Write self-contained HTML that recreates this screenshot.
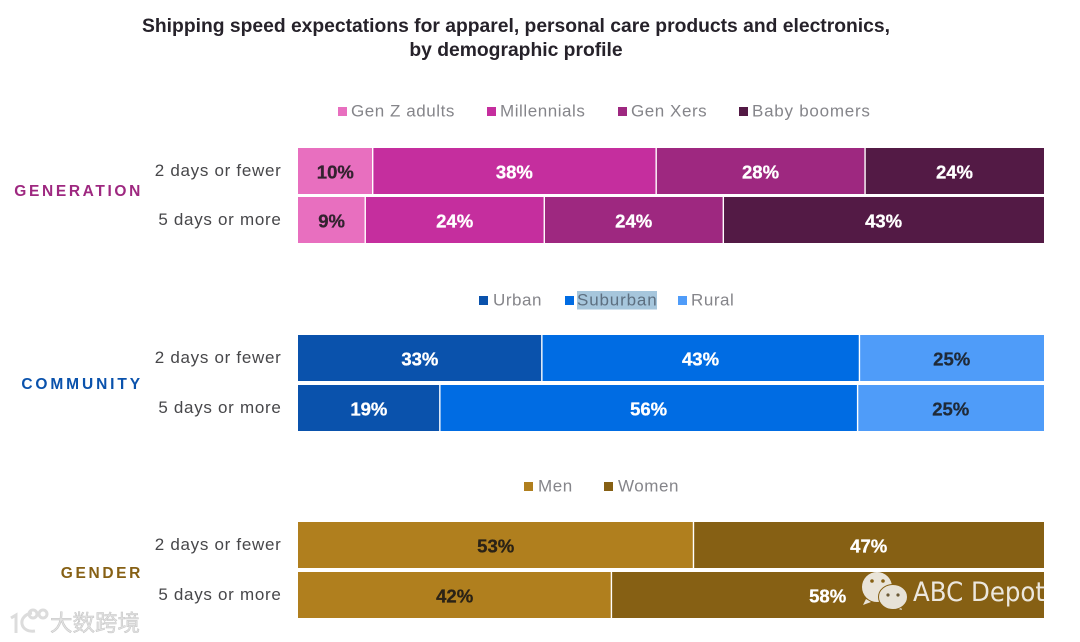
<!DOCTYPE html>
<html lang="en">
<head>
<meta charset="utf-8">
<title>Shipping speed expectations</title>
<style>
html,body{margin:0;padding:0;background:#fff;width:1080px;height:642px;overflow:hidden}
svg{display:block;font-family:"Liberation Sans","Noto Sans CJK SC",sans-serif}
.title{font-size:19.3px;font-weight:700;fill:#26222a;text-anchor:middle}
.leg{font-size:17px;fill:#85858a;letter-spacing:.55px}
.row{font-size:17px;fill:#47474a;text-anchor:end;letter-spacing:.7px}
.group{font-size:15.5px;font-weight:700;text-anchor:end;letter-spacing:2.65px}
.val{font-size:18.500px;font-weight:700;text-anchor:middle;stroke-width:.3px}
</style>
</head>
<body>
<svg id="chart" width="1080" height="642" viewBox="0 0 1080 642" xmlns="http://www.w3.org/2000/svg">
  <text class="title" x="516" y="32">Shipping speed expectations for apparel, personal care products and electronics,</text>
  <text class="title" x="516" y="56">by demographic profile</text>

  <g>
    <rect x="338" y="107" width="9" height="9" fill="#e86fbf"/>
    <text class="leg" x="351" y="116.500">Gen Z adults</text>
    <rect x="487" y="107" width="9" height="9" fill="#c52e9e"/>
    <text class="leg" x="500" y="116.500">Millennials</text>
    <rect x="618" y="107" width="9" height="9" fill="#9e2880"/>
    <text class="leg" x="631" y="116.500">Gen Xers</text>
    <rect x="739" y="107" width="9" height="9" fill="#531a45"/>
    <text class="leg" x="752" y="116.500" style="letter-spacing:.75px">Baby boomers</text>
  </g>

  <g>
    <rect x="479" y="296" width="9" height="9" fill="#0a52ac"/>
    <text class="leg" x="493" y="305.500">Urban</text>
    <rect x="565" y="296" width="9" height="9" fill="#006ce3"/>
    <rect x="577" y="291" width="80" height="18.500" fill="#a6c6dc"/>
    <text class="leg" x="577" y="305.500" style="fill:#5d6f80;letter-spacing:.85px">Suburban</text>
    <rect x="678" y="296" width="9" height="9" fill="#4f9cf9"/>
    <text class="leg" x="691" y="305.500">Rural</text>
  </g>

  <g>
    <rect x="524" y="482" width="9" height="9" fill="#b07f1e"/>
    <text class="leg" x="538" y="491.500">Men</text>
    <rect x="604" y="482" width="9" height="9" fill="#866014"/>
    <text class="leg" x="618" y="491.500">Women</text>
  </g>

  <text class="group" x="143" y="196" fill="#9e2880">GENERATION</text>
  <text class="group" x="143" y="389" fill="#0a52ac" style="letter-spacing:2.9px">COMMUNITY</text>
  <text class="group" x="143" y="578" fill="#866014">GENDER</text>

  <g id="bars"></g>

  <g opacity="0.93">
    <g>
      <path d="M866 599l-3 6 8-3z" fill="#f1eee8"/>
      <ellipse cx="877" cy="587" rx="15" ry="15" fill="#f1eee8"/>
      <path d="M900 605l2 5-7-2z" fill="#efece6"/>
      <ellipse cx="893" cy="597" rx="14.500" ry="12.500" fill="#efece6" stroke="#866014" stroke-width="1"/>
      <circle cx="872" cy="581" r="1.800" fill="#866014"/>
      <circle cx="883" cy="581" r="1.800" fill="#866014"/>
      <circle cx="888" cy="595" r="1.600" fill="#6b5a3a"/>
      <circle cx="898" cy="595" r="1.600" fill="#6b5a3a"/>
    </g>
    <text x="913" y="601" font-size="27" textLength="132" lengthAdjust="spacingAndGlyphs" fill="#f4f2ee" style="font-family:'DejaVu Sans',sans-serif">ABC Depot</text>
  </g>

  <g>
    <g fill="none" stroke="#dcdcdc" stroke-width="3">
      <path d="M11 618l5-3v18"/>
      <path d="M32 613c-7 1-11 6-10 11 1 5 6 8 13 7"/>
      <circle cx="33" cy="614" r="4"/>
      <circle cx="43" cy="614" r="4"/>
    </g>
    <text x="50" y="631" font-size="22.500" fill="#e2e2e2" stroke="#c4c4c4" stroke-width=".5">大数跨境</text>
  </g>
</svg>

<script>
// Values (percent)
const rowLabels = ["2 days or fewer", "5 days or more"];
const generationSeries = ["Gen Z adults", "Millennials", "Gen Xers", "Baby boomers"];
const generationFewer = [10, 38, 28, 24];
const generationMore = [9, 24, 24, 43];
const communitySeries = ["Urban", "Suburban", "Rural"];
const communityFewer = [33, 43, 25];
const communityMore = [19, 56, 25];
const genderSeries = ["Men", "Women"];
const genderFewer = [53, 47];
const genderMore = [42, 58];

const PLOT_LEFT = 298, PLOT_WIDTH = 746, BAR_HEIGHT = 46, GAP = 1.4, NUDGE = 0.8;
const groups = [
  {key:"generation", top:[148,197], series:generationSeries, rows:[generationFewer,generationMore],
   colors:["#e86fbf","#c52e9e","#9e2880","#531a45"], text:["#33222f","#fff","#fff","#fff"]},
  {key:"community", top:[335,385], series:communitySeries, rows:[communityFewer,communityMore],
   colors:["#0a52ac","#006ce3","#4f9cf9"], text:["#fff","#fff","#1f2a38"]},
  {key:"gender", top:[522,572], series:genderSeries, rows:[genderFewer,genderMore],
   colors:["#b07f1e","#866014"], text:["#2a2216","#fff"]}
];

const NS = "http://www.w3.org/2000/svg";
const root = document.getElementById("bars");
// Rows are normalised to their own total, as the printed percentages may round to 101.
function xScale(value, total){ return PLOT_WIDTH * value / total; }

groups.forEach(function(group){
  group.rows.forEach(function(row, r){
    const y = group.top[r];
    const total = row.reduce(function(a,b){return a+b;}, 0);

    const label = document.createElementNS(NS, "text");
    label.setAttribute("class", "row");
    label.setAttribute("x", 281.5);
    label.setAttribute("y", y + 28);
    
    
    label.textContent = rowLabels[r];
    root.appendChild(label);

    let cum = 0;
    row.forEach(function(value, s){
      const x0 = PLOT_LEFT + xScale(cum, total);
      const w = xScale(value, total);
      const left = s === 0 ? x0 : x0 + NUDGE;
      const right = s === row.length - 1 ? x0 + w : x0 + w + NUDGE - GAP;
      const rect = document.createElementNS(NS, "rect");
      rect.setAttribute("x", left);
      rect.setAttribute("y", y);
      rect.setAttribute("width", right - left);
      rect.setAttribute("height", BAR_HEIGHT);
      rect.setAttribute("fill", group.colors[s]);
      
      
      root.appendChild(rect);

      const text = document.createElementNS(NS, "text");
      text.setAttribute("class", "val");
      text.setAttribute("x", x0 + w / 2);
      text.setAttribute("y", y + 30.5);
      text.setAttribute("fill", group.text[s]);
      text.setAttribute("stroke", group.text[s]);
      
      
      text.textContent = value + "%";
      root.appendChild(text);
      cum += value;
    });
  });
});
</script>
</body>
</html>
